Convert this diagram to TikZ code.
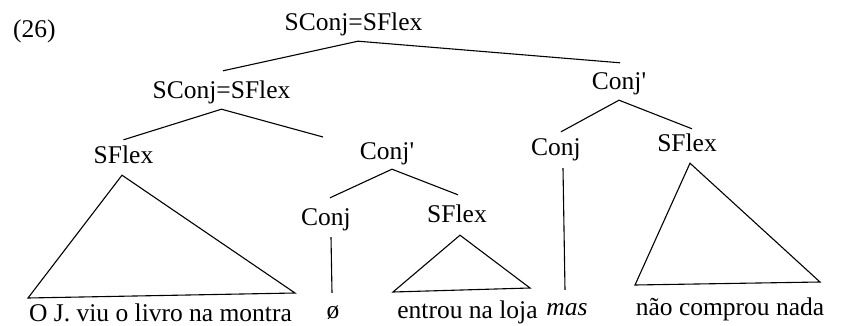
\documentclass[tikz,border=0pt]{standalone}
\usepackage{fontspec}
\setmainfont{Liberation Serif}
\usetikzlibrary{calc}
\begin{document}
\begin{tikzpicture}[x=1pt,y=-1pt,
  lbl/.style={inner sep=0pt, text height=23pt, text depth=10pt, anchor=base,
              font=\fontsize{25.5}{30}\selectfont},
  edge/.style={line width=1.1pt, line join=miter}]
\useasboundingbox (0,0) rectangle (843,326);
% labels
\node[lbl, anchor=base west] (ex) at (13,38) {(26)};
\node[lbl] (top) at (353.5,31) {SConj=SFlex};
\node[lbl] (scl) at (221.5,99) {SConj=SFlex};
\node[lbl] (cpr) at (619,90) {Conj\textquotesingle};
\node[lbl] (sfl) at (123.5,163) {SFlex};
\node[lbl] (cpm) at (387,160) {Conj\textquotesingle};
\node[lbl] (cjm) at (326,225) {Conj};
\node[lbl] (sfm) at (457,222) {SFlex};
\node[lbl] (cjr) at (556,155) {Conj};
\node[lbl] (sfr) at (687,152) {SFlex};
% leaves
\node[lbl] (l1) at (160.5,321.5) {O J. viu o livro na montra};
\node[lbl] (phi) at (333,318) {ø};
\node[lbl] (l2) at (467.5,318) {entrou na loja};
\node[lbl] (mas) at (567,315) {\itshape mas};
\node[lbl] (l3) at (730,315) {não comprou nada};
% free ends
\coordinate (sclR) at (323,137);
\coordinate (t1a) at (28,298);
\coordinate (t1b) at (295,293);
\coordinate (t2a) at (393,292);
\coordinate (t2b) at (530,288);
\coordinate (t3a) at (635,285);
\coordinate (t3b) at (820,282);
% branches
\draw[edge] ($(scl.north)+(1.5,-5)$) -- ($(top.south)+(4.5,0)$) -- ($(cpr.north)+(1,-4)$);
\draw[edge] (sfl.north) -- (scl.south) -- (sclR);
\draw[edge] ($(cjr.north)+(5,0)$) -- (cpr.south) -- ($(sfr.north)+(5,0)$);
\draw[edge] ($(cjm.north)+(4,-4)$) -- ($(cpm.south)+(5,-1)$) -- ($(sfm.north)+(1,-4)$);
\draw[edge] ($(cjm.south)+(5,2)$) -- ($(phi.north)+(-1,-2)$);
\draw[edge] ($(cjr.south)+(7,3)$) -- ($(mas.north)+(-2,-2)$);
% triangles
\draw[edge] ($(sfl.south)+(-1.5,2)$) -- (t1a) -- (t1b) -- cycle;
\draw[edge] ($(sfm.south)+(3,3)$) -- (t2a) -- (t2b) -- cycle;
\draw[edge] ($(sfr.south)+(3,1)$) -- (t3a) -- (t3b) -- cycle;
\end{tikzpicture}
\end{document}
